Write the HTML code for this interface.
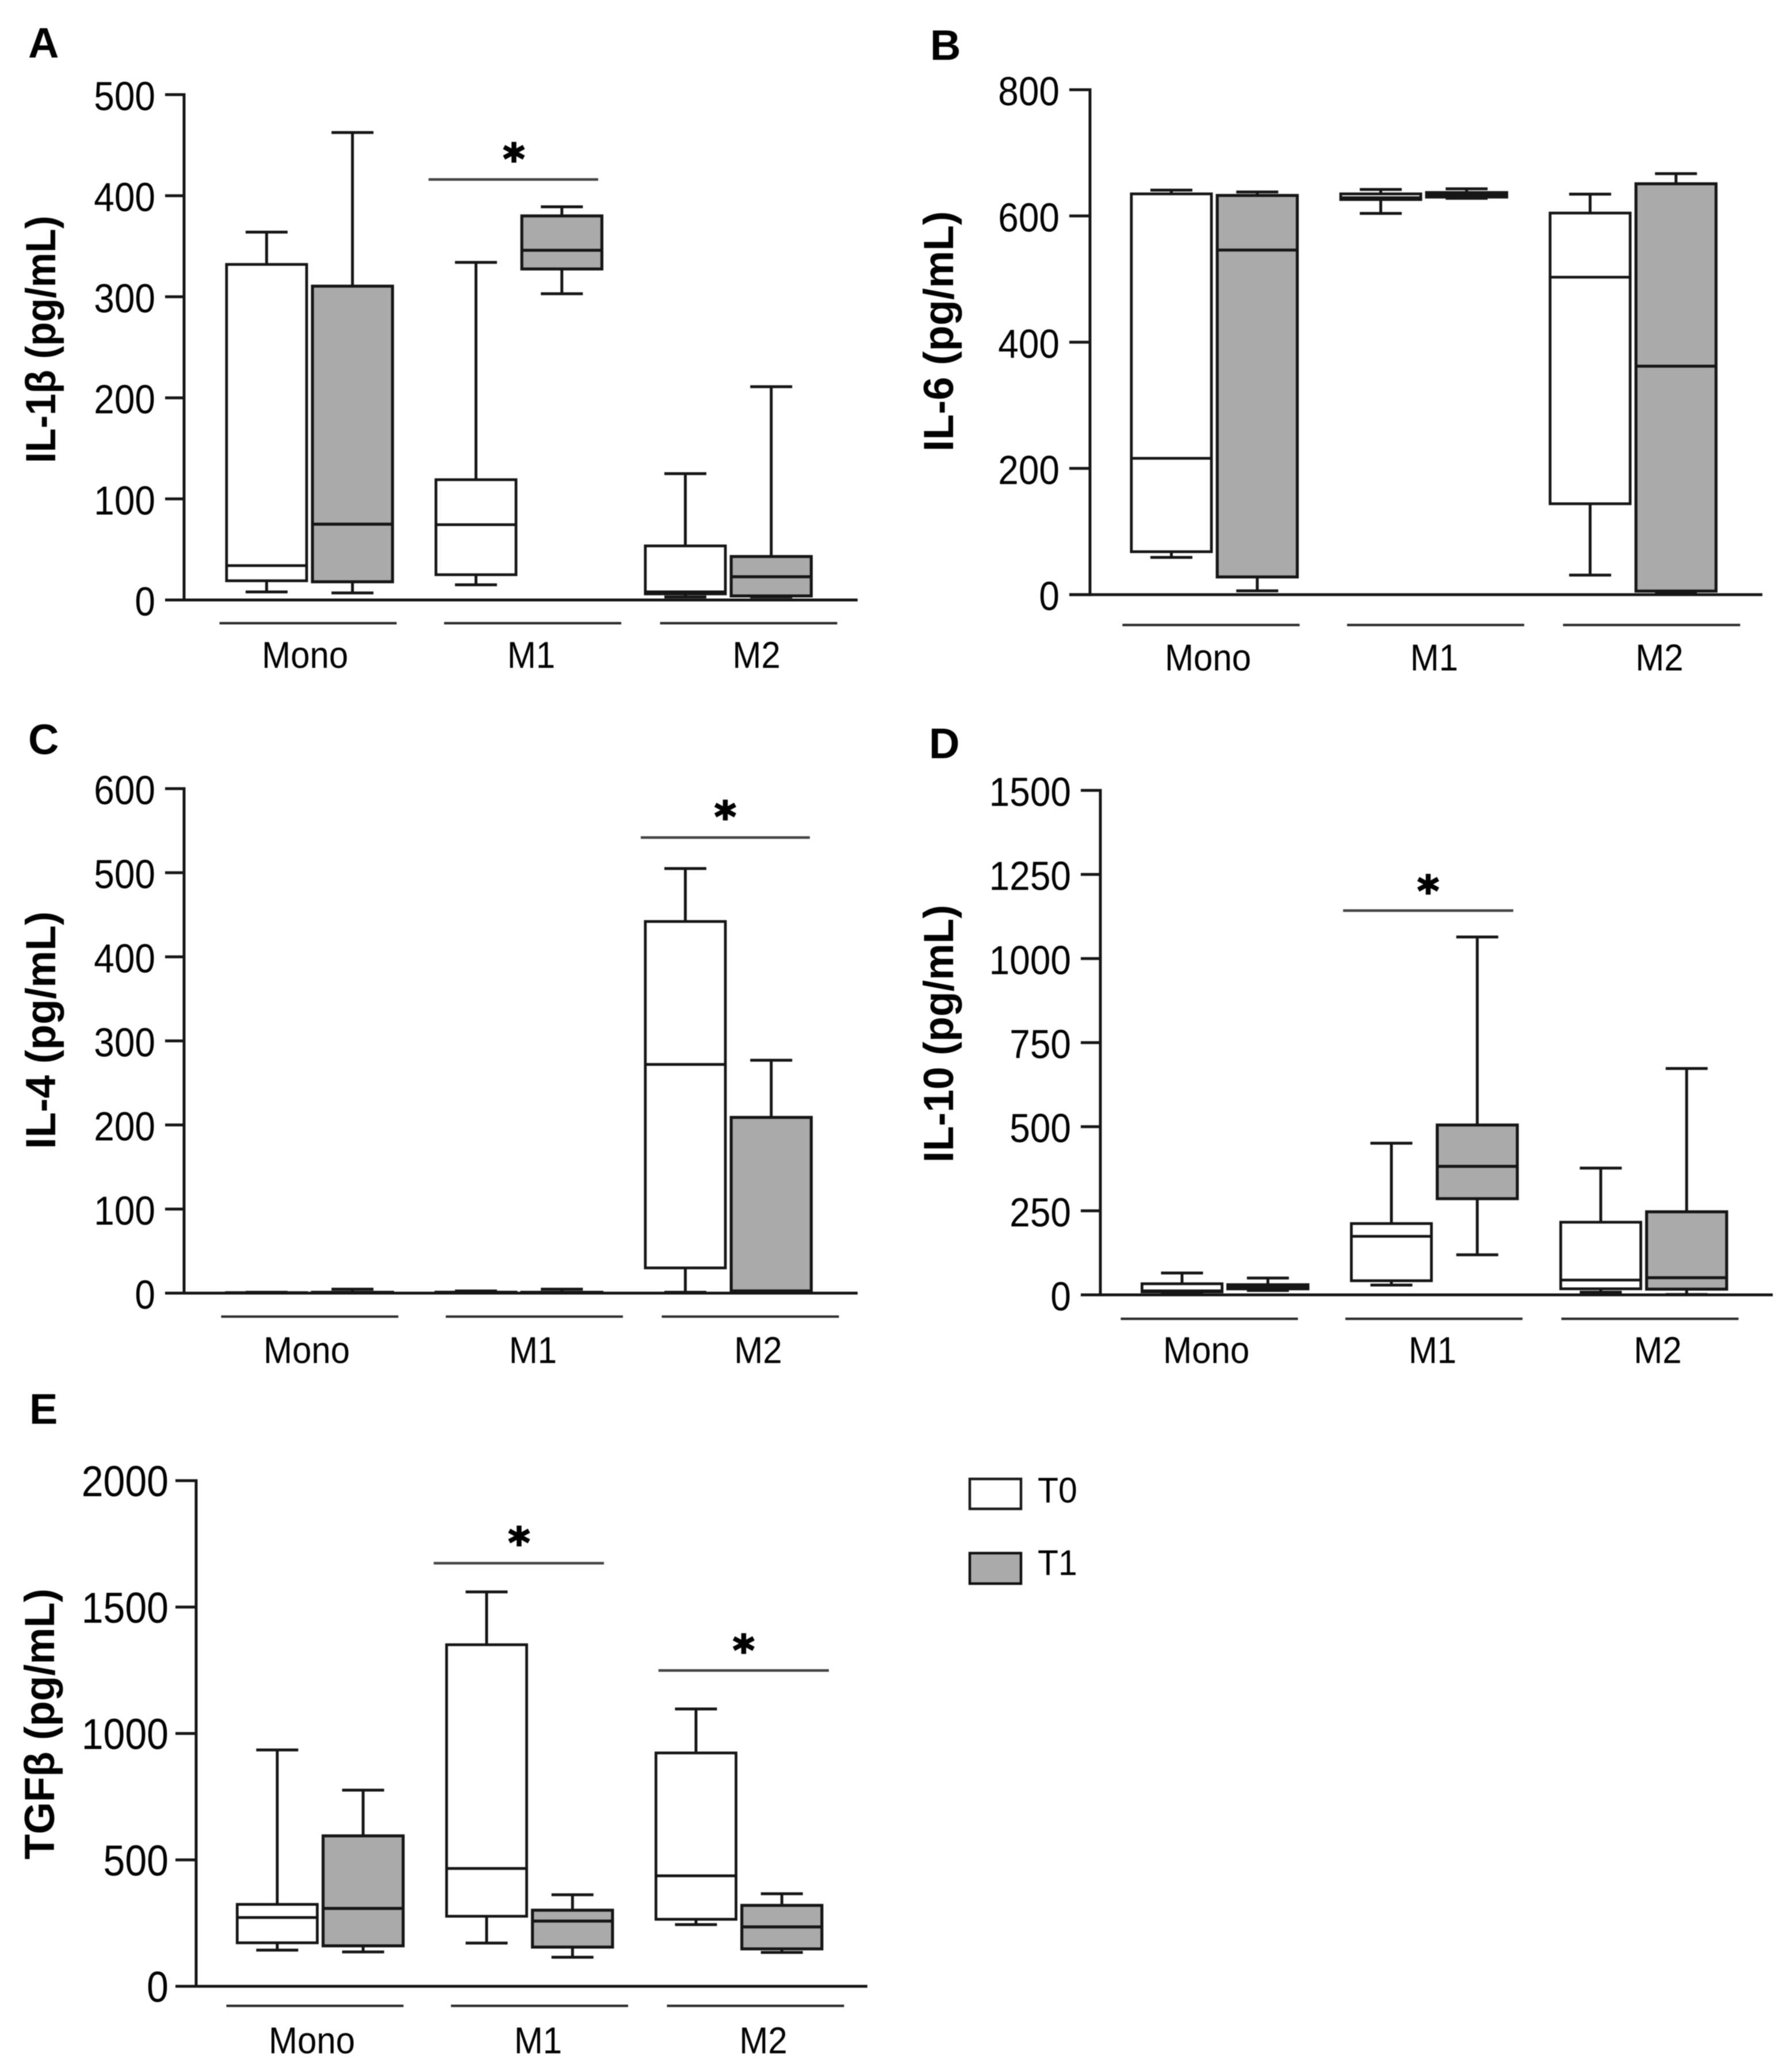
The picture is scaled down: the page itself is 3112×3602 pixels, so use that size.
<!DOCTYPE html>
<html lang="en">
<head>
<meta charset="utf-8">
<title>Cytokine box plots</title>
<style>
html,body{margin:0;padding:0;background:#fff;}
#figure{display:block;width:3112px;height:3602px;filter:blur(0.8px);font-family:"Liberation Sans",Arial,sans-serif;}
</style>
</head>
<body>
<svg id="figure" xmlns="http://www.w3.org/2000/svg" width="3112" height="3602" viewBox="0 0 3112 3602">
<rect x="0" y="0" width="3112" height="3602" fill="#ffffff"></rect>
<g>
<rect x="1686" y="2571" width="89" height="52" fill="#ffffff" stroke="#1a1a1a" stroke-width="4.5"></rect>
<text transform="translate(1804 2612) scale(1 1.06)" font-size="59" fill="#000">T0</text>
<rect x="1686" y="2700" width="89" height="53" fill="#aaaaaa" stroke="#111" stroke-width="4.5"></rect>
<text transform="translate(1804 2738) scale(1 1.06)" font-size="59" fill="#000">T1</text>
</g>
</svg>
<script>
// Shared categories and series
const categories = ['Mono', 'M1', 'M2'];
const seriesNames = ['T0', 'T1'];

// Each series row is one category: [low whisker, Q1, median, Q3, high whisker]
const il1bTicks = [0, 100, 200, 300, 400, 500];
const il1bT0 = [[8, 19, 34, 332, 364], [15, 25, 74.5, 119, 334], [3, 6, 8, 53.5, 125]];
const il1bT1 = [[7, 18, 75, 310.5, 462.5], [303, 327.5, 346, 380, 389], [3, 4, 23, 43, 211]];

const il6Ticks = [0, 200, 400, 600, 800];
const il6T0 = [[59, 68, 216, 635, 641], [604, 626, 629, 635, 642], [31, 144, 503, 604.6, 634.6]];
const il6T1 = [[6, 28, 546, 632.5, 638], [628, 630, 634, 637, 643], [1.4, 5.6, 362, 651, 667]];

const il4Ticks = [0, 100, 200, 300, 400, 500, 600];
const il4T0 = [[0, 0.2, 0.4, 0.6, 1], [0.2, 0.4, 0.8, 1.2, 2.6], [1, 30, 272, 442, 505]];
const il4T1 = [[0, 0.3, 0.6, 1, 4.7], [0, 0.3, 0.6, 1, 4.7], [0.5, 1.5, 2.6, 209, 277]];

const il10Ticks = [0, 250, 500, 750, 1000, 1250, 1500];
const il10T0 = [[3, 9, 12, 33, 65], [29, 42, 174, 212, 451], [8, 18, 44, 216, 377]];
const il10T1 = [[13, 18, 24, 30, 50], [119, 286, 382, 505, 1064], [1, 17, 51, 247, 673]];

const tgfbTicks = [0, 500, 1000, 1500, 2000];
const tgfbT0 = [[143, 172, 272, 324, 935], [171, 277, 466, 1351, 1560], [244, 265, 437, 923, 1097]];
const tgfbT1 = [[136, 160, 308, 595, 776], [115, 155, 258, 301, 362], [134, 148, 235, 320, 366]];

// Panel layout
const panels = [
  {id:'a', letter:'A', lx:49, ly:100, title:'IL-1\u03B2 (pg/mL)', tx:96, tc:590, tlen:430, axisX:320, tickL:287, right:1491, y0:1043, yTop:164.5, ticks:il1bTicks, tickFs:64, tickGap:17, t0:il1bT0, t1:il1bT1, origin:463.5, grpX:381.6, grpY:1083.4, labY:1161,
   sig:[{x1:745, x2:1040, y:312, ax:893.5, ay:265.7}]},
  {id:'b', letter:'B', lx:1617, ly:104, title:'IL-6 (pg/mL)', tx:1657, tc:576, tlen:418, axisX:1895, tickL:1859, right:3064, y0:1033.7, yTop:156, ticks:il6Ticks, tickFs:64, tickGap:17, t0:il6T0, t1:il6T1, origin:2036.5, grpX:1951.4, grpY:1086.5, labY:1165.5,
   sig:[]},
  {id:'c', letter:'C', lx:49, ly:1311, title:'IL-4 (pg/mL)', tx:96, tc:1791, tlen:413, axisX:320, tickL:287, right:1491, y0:2248, yTop:1371, ticks:il4Ticks, tickFs:64, tickGap:17, t0:il4T0, t1:il4T1, origin:463.5, grpX:384.5, grpY:2288.8, labY:2369.5,
   sig:[{x1:1114, x2:1408, y:1456, ax:1261, ay:1409}]},
  {id:'d', letter:'D', lx:1615, ly:1318, title:'IL-10 (pg/mL)', tx:1657, tc:1797, tlen:448, axisX:1913, tickL:1879, right:3082, y0:2251, yTop:1374, ticks:il10Ticks, tickFs:64, tickGap:17, t0:il10T0, t1:il10T1, origin:2055, grpX:1948.5, grpY:2292.6, labY:2369.5,
   sig:[{x1:2335, x2:2631, y:1583, ax:2483, ay:1538}]},
  {id:'e', letter:'E', lx:51, ly:2475, title:'TGF\u03B2 (pg/mL)', tx:94, tc:2997, tlen:471, axisX:341, tickL:305, right:1508, y0:3453, yTop:2574, ticks:tgfbTicks, tickFs:68, tickGap:12, t0:tgfbT0, t1:tgfbT1, origin:482, grpX:393.5, grpY:3487, labY:3569.5,
   sig:[{x1:754, x2:1050, y:2717.5, ax:902.5, ay:2671},{x1:1144.7, x2:1441, y:2904, ax:1293, ay:2858}]}
];

const svg = document.getElementById('figure');
const NS = 'http://www.w3.org/2000/svg';
const INK = '#161616';
const GROUP_STEP = 364, SERIES_STEP = 149.3, BOX_W = 139.2, CAP_W = 73;
const GROUP_LINE_OFFS = [0, 390.5, 766], GROUP_LINE_W = 308, GROUP_LABEL_OFFS = [148.7, 542, 933.6];

function make(tag, attrs, parent) {
  const el = document.createElementNS(NS, tag);
  for (const k in attrs) el.setAttribute(k, attrs[k]);
  parent.appendChild(el);
  return el;
}
function seg(parent, x1, y1, x2, y2, w, color) {
  return make('line', {x1: x1, y1: y1, x2: x2, y2: y2, stroke: color || INK, 'stroke-width': w || 5}, parent);
}

panels.forEach(function (p) {
  const maxV = p.ticks[p.ticks.length - 1];
  const yScale = function (v) { return p.y0 - (v / maxV) * (p.y0 - p.yTop); };
  const xScale = function (g, s) { return p.origin + g * GROUP_STEP + s * SERIES_STEP; };

  const panel = make('g', {}, svg);
  
  

  const letter = make('text', {x: p.lx, y: p.ly, 'font-size': 74, 'font-weight': 'bold', fill: '#000'}, panel);
  letter.textContent = p.letter;
  
  

  const title = make('text', {x: p.tx, y: p.tc, 'font-size': 73, 'font-weight': 'bold', fill: '#000', 'text-anchor': 'middle', textLength: p.tlen, lengthAdjust: 'spacingAndGlyphs', transform: 'rotate(-90 ' + p.tx + ' ' + p.tc + ')'}, panel);
  title.textContent = p.title;
  
  

  const yAxis = seg(panel, p.axisX, p.yTop - 2.5, p.axisX, p.y0 + 2.5);
  
  

  p.ticks.forEach(function (t) {
    const y = yScale(t);
    const tick = seg(panel, p.tickL, y, p.axisX, y);
    
    
    const lab = make('text', {transform: 'translate(' + (p.tickL - p.tickGap) + ' ' + (y + 27) + ') scale(1 1.1)', 'font-size': p.tickFs, fill: '#000', 'text-anchor': 'end'}, panel);
    lab.textContent = String(t);
    
    
  });

  [p.t0, p.t1].forEach(function (rows, s) {
    rows.forEach(function (r, g) {
      const cx = xScale(g, s);
      const w = s === 0 ? 4.8 : 5.2;
      const box = make('g', {}, panel);
      
      
      const yLo = yScale(r[0]), yQ1 = yScale(r[1]), yMed = yScale(r[2]), yQ3 = yScale(r[3]), yHi = yScale(r[4]);
      seg(box, cx, yHi, cx, yQ3);
      seg(box, cx - CAP_W / 2, yHi, cx + CAP_W / 2, yHi);
      seg(box, cx, yQ1, cx, yLo);
      seg(box, cx - CAP_W / 2, yLo, cx + CAP_W / 2, yLo);
      make('rect', {x: cx - BOX_W / 2, y: yQ3, width: BOX_W, height: Math.max(yQ1 - yQ3, 0.5), fill: s === 0 ? '#ffffff' : '#aaaaaa', stroke: INK, 'stroke-width': w}, box);
      seg(box, cx - BOX_W / 2, yMed, cx + BOX_W / 2, yMed, w);
    });
  });

  const xAxis = seg(panel, p.tickL, p.y0, p.right, p.y0);
  
  

  categories.forEach(function (c, g) {
    const gx = p.grpX + GROUP_LINE_OFFS[g];
    const line = seg(panel, gx, p.grpY, gx + GROUP_LINE_W, p.grpY, 4.2, '#2c2c2c');
    
    
    const lab = make('text', {transform: 'translate(' + (p.grpX + GROUP_LABEL_OFFS[g]) + ' ' + p.labY + ') scale(1 1.09)', 'font-size': 60, fill: '#000', 'text-anchor': 'middle'}, panel);
    lab.textContent = c;
    
    
  });

  p.sig.forEach(function (b, i) {
    const bar = seg(panel, b.x1, b.y, b.x2, b.y, 4.6, '#444');
    
    
    const star = make('text', {x: b.ax, y: b.ay + 36, 'font-size': 72, 'font-weight': 'bold', 'font-family': '"DejaVu Sans", sans-serif', fill: '#000', stroke: '#000', 'stroke-width': 2.5, 'text-anchor': 'middle'}, panel);
    star.textContent = '*';
    
    
  });
});
</script>
</body>
</html>
